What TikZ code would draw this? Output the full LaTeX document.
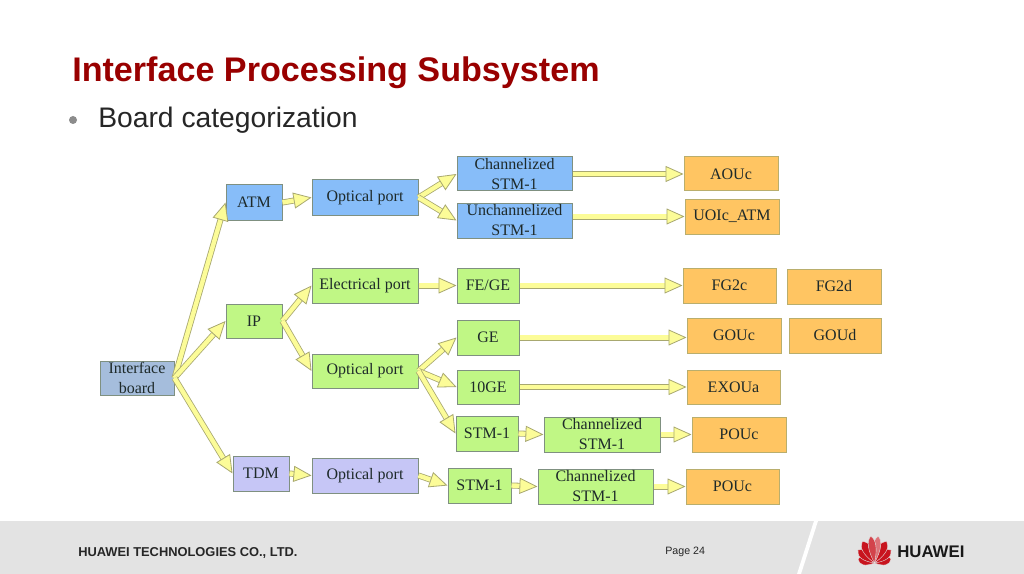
\documentclass[tikz,border=0pt]{standalone}
\usepackage{fontspec}
\setmainfont{Liberation Serif}
\newfontfamily\arialf{Liberation Sans}
\usetikzlibrary{arrows.meta,calc}
\definecolor{cblue}{HTML}{87BDF9}
\definecolor{cgreen}{HTML}{C0F785}
\definecolor{cpurple}{HTML}{C6C6F6}
\definecolor{corange}{HTML}{FFC562}
\definecolor{cif}{HTML}{A5BDDC}
\definecolor{cedge}{HTML}{7F9080}
\definecolor{ctxt}{HTML}{1E2A2A}
\definecolor{cyel}{HTML}{FCFC98}
\definecolor{cole}{HTML}{A8A870}
\definecolor{cband}{HTML}{E3E3E3}
\definecolor{ctitle}{HTML}{990000}
\definecolor{clogo}{HTML}{C8141E}
\tikzset{
  bx/.style={draw=cedge,line width=0.75pt,inner sep=0pt,align=center,text=ctxt,font=\fontsize{12}{15}\selectfont},
  bl/.style={bx,fill=cblue},
  gr/.style={bx,fill=cgreen},
  pu/.style={bx,fill=cpurple},
  og/.style={bx,fill=corange,draw=cole!80!corange},
  ifb/.style={bx,fill=cif},
  fat/.style={draw=cole,double=cyel,double distance=3.3pt,line width=0.6pt,
    -{Triangle[length=13.5pt,width=12pt,fill=cyel,color=cole,line width=0.6pt]},shorten >=0pt},
}
\newcommand{\nb}[7]{%
  \pgfmathsetmacro{\cxx}{(#3+#5)/2}\pgfmathsetmacro{\cyy}{(#4+#6)/2}%
  \pgfmathsetmacro{\ww}{(#5-#3)*0.75}\pgfmathsetmacro{\hh}{(#6-#4)*0.75}%
  \node[#2,minimum width=\ww pt,minimum height=\hh pt] (#1) at (\cxx,\cyy) {#7};}
\begin{document}
\begin{tikzpicture}[x=0.75pt,y=-0.75pt]
\useasboundingbox (0,0) rectangle (1024,574);
\fill[white] (0,0) rectangle (1024,574);
% footer
\fill[cband] (0,521) rectangle (1024,574);
\fill[white] (814,521) -- (818,521) -- (801,574) -- (797,574) -- cycle;
\node[anchor=west,inner sep=0pt,font=\arialf\bfseries\fontsize{9.65}{11}\selectfont,text=black!85] (foot) at (78,553) {HUAWEI TECHNOLOGIES CO., LTD.};
\node[anchor=west,inner sep=0pt,font=\arialf\fontsize{8}{10}\selectfont,text=black!85] (page) at (665,552) {Page 24};
\node[anchor=west,inner sep=0pt,font=\arialf\bfseries\fontsize{12.6}{14}\selectfont,text=black!90] (hw) at (897,552) {HUAWEI};
% logo
\foreach \a/\l/\w/\c in {-76/17/6/clogo,76/17/6/clogo,-52/21/6/clogo,52/21/6/clogo,-29/25/6/clogo,29/25/6/clogo,-8/27/5/clogo!60!white,8/27/5/clogo!80!white}{
  \fill[\c,draw=cband,line width=0.3pt,rotate around={\a:(874.5,563)}] (874.5,563) .. controls (874.5-\w,563-0.5*\l) and (874.5-\w,563-0.85*\l) .. (874.5,563-\l)
     .. controls (874.5+\w,563-0.85*\l) and (874.5+\w,563-0.5*\l) .. (874.5,563) -- cycle;
}
% title
\node[anchor=west,inner sep=0pt,font=\arialf\bfseries\fontsize{25.6}{30}\selectfont,text=ctitle] (title) at (72,73) {Interface Processing Subsystem};
\fill[black!45] (73,120) circle (4);
\node[anchor=west,inner sep=0pt,font=\arialf\fontsize{21.2}{25}\selectfont,text=black!85] (sub) at (98,120) {Board categorization};
% boxes
\nb{ib}{ifb}{100}{361}{174}{395}{Interface\\board}
\nb{atm}{bl}{226}{185}{282}{220}{ATM}
\nb{op1}{bl}{312}{180}{418}{215}{Optical port}
\nb{ch1}{bl}{457}{157}{572}{191}{Channelized\\STM-1}
\nb{un1}{bl}{457}{203}{572}{238}{Unchannelized\\STM-1}
\nb{aou}{og}{684}{157}{778}{191}{AOUc}
\nb{uoi}{og}{685}{199}{779}{234}{UOIc\_ATM}
\nb{ip}{gr}{226}{304}{282}{338}{IP}
\nb{el}{gr}{312}{268}{418}{303}{Electrical port}
\nb{fe}{gr}{457}{268}{519}{303}{FE/GE}
\nb{fg2c}{og}{683}{268}{776}{303}{FG2c}
\nb{fg2d}{og}{787}{269}{881}{304}{FG2d}
\nb{op2}{gr}{312}{354}{418}{388}{Optical port}
\nb{ge}{gr}{457}{320}{519}{355}{GE}
\nb{gouc}{og}{687}{318}{781}{353}{GOUc}
\nb{goud}{og}{789}{318}{881}{353}{GOUd}
\nb{tge}{gr}{457}{370}{519}{404}{10GE}
\nb{exo}{og}{687}{370}{780}{404}{EXOUa}
\nb{stma}{gr}{456}{416}{518}{451}{STM-1}
\nb{cha}{gr}{544}{417}{660}{452}{Channelized\\STM-1}
\nb{poa}{og}{692}{417}{786}{452}{POUc}
\nb{tdm}{pu}{233}{456}{289}{491}{TDM}
\nb{op3}{pu}{312}{458}{418}{493}{Optical port}
\nb{stmb}{gr}{448}{468}{511}{503}{STM-1}
\nb{chb}{gr}{538}{469}{653}{504}{Channelized\\STM-1}
\nb{pob}{og}{686}{469}{779}{504}{POUc}
% connectors
\foreach \p/\q in {ib/atm,ib/ip,ib/tdm,atm/op1,op1/ch1,op1/un1,ch1/aou,
  ip/el,ip/op2,el/fe,fe/fg2c,op2/ge,op2/tge,op2/stma,tge/exo,stma/cha,cha/poa,
  tdm/op3,op3/stmb,stmb/chb,chb/pob}{
  \draw[fat] (\p.east) -- (\q.west);
}
\draw[fat] (un1.east |- uoi.west) -- (uoi.west);
\draw[fat] (ge.east) -- (gouc.west |- ge.east);
\end{tikzpicture}
\end{document}
